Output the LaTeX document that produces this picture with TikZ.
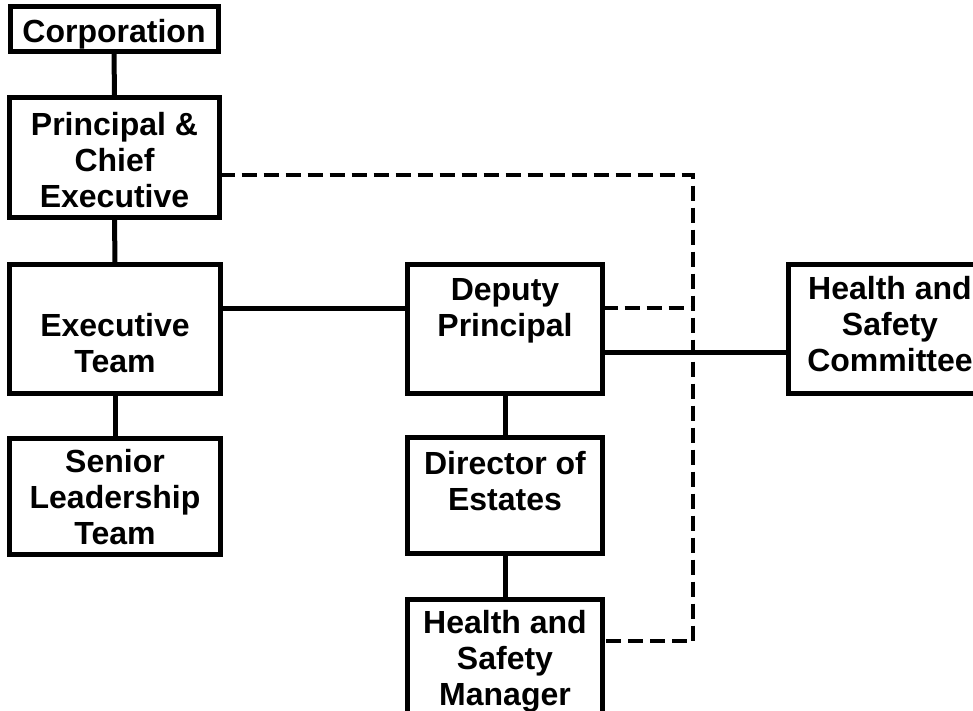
\documentclass[tikz,border=0pt]{standalone}
\usepackage{fontspec}
\setmainfont{Liberation Sans}
\begin{document}
\begin{tikzpicture}[x=1pt,y=-1pt,
  box/.style={draw, line width=5pt, inner sep=0pt, outer sep=0pt, fill=white},
  txt/.style={align=center, inner sep=0pt, outer sep=0pt, anchor=north,
    font=\fontsize{32}{36}\selectfont\bfseries},
  conn/.style={line width=5pt},
  dashline/.style={line width=3.3pt, dash pattern=on 15pt off 7pt}]
\useasboundingbox (0,0) rectangle (973,710);
\clip (0,0) rectangle (973,710);
% boxes
\node[box, minimum width=208pt, minimum height=45pt]  (corp) at (114,29) {};
\node[box, minimum width=210pt, minimum height=120pt] (prin) at (114.5,157.5) {};
\node[box, minimum width=211pt, minimum height=129pt] (exec) at (115,329) {};
\node[box, minimum width=211pt, minimum height=116pt] (slt)  at (115,496.5) {};
\node[box, minimum width=195pt, minimum height=129pt] (dep)  at (505,329) {};
\node[box, minimum width=195pt, minimum height=116pt] (dir)  at (505,495.5) {};
\node[box, minimum width=195pt, minimum height=140pt] (mgr)  at (505,669.5) {};
\node[box, minimum width=203pt, minimum height=129pt] (com)  at (890,329) {};
% texts
\node[txt] (tcorp) at (114,17)    {\rule{0pt}{25pt}Corporation};
\node[txt] (tprin) at (114.5,110) {\rule{0pt}{25pt}Principal \&\\Chief\\Executive};
\node[txt] (texec) at (115,311)   {\rule{0pt}{25pt}Executive\\Team};
\node[txt] (tslt)  at (115,447)   {\rule{0pt}{25pt}Senior\\Leadership\\Team};
\node[txt] (tdep)  at (505,275)   {\rule{0pt}{25pt}Deputy\\Principal};
\node[txt] (tdir)  at (505,449)   {\rule{0pt}{25pt}Director of\\Estates};
\node[txt] (tmgr)  at (505,608)   {\rule{0pt}{25pt}Health and\\Safety\\Manager};
\node[txt] (tcom)  at (890,274)   {\rule{0pt}{25pt}Health and\\Safety\\Committee};
% junction points of the dashed line
\coordinate (j1) at (693,175);
\coordinate (j2) at (693,641);
% solid connectors
\draw[conn] (corp.south) -- (prin.north);
\draw[conn] (prin.south) -- (exec.north);
\draw[conn] (exec.south) -- (slt.north);
\draw[conn] (dep.south) -- (dir.north);
\draw[conn] (dir.south) -- (mgr.north);
\draw[conn] ([yshift=21pt]exec.east) -- ([yshift=21pt]dep.west);
\draw[conn] ([yshift=-23pt]dep.east) -- ([yshift=-23pt]com.west);
% dashed connectors
\draw[dashline] (prin.east |- j1) -- (j1) -- (j2) -- (mgr.east |- j2);
\draw[dashline] ([yshift=21pt]dep.east) coordinate (d1) -- (j1 |- d1);
\end{tikzpicture}
\end{document}
